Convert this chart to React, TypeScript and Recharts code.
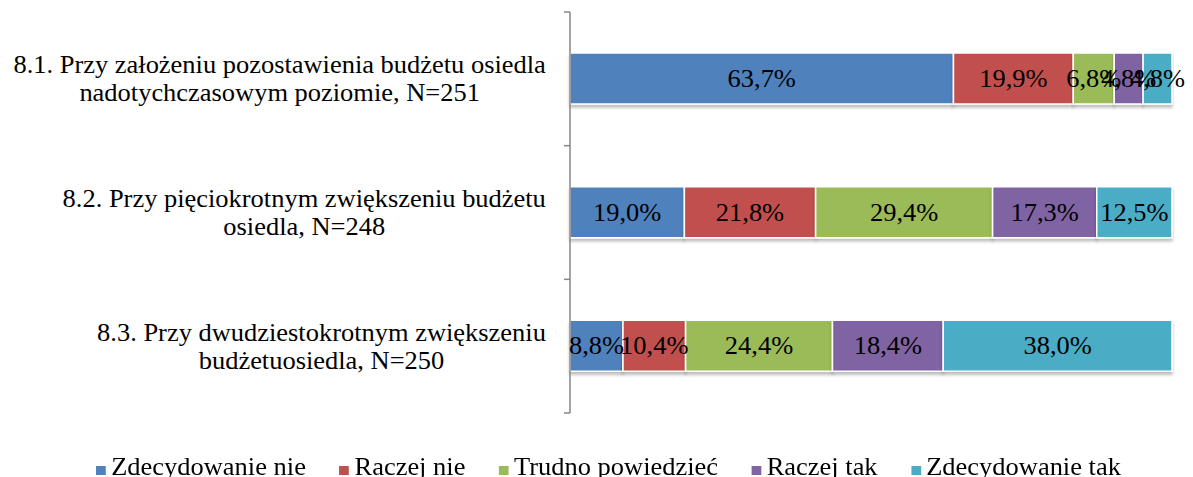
import { BarChart, Bar, XAxis, YAxis, Legend, LabelList } from 'recharts'

const categories = [
  ['8.1. Przy założeniu pozostawienia budżetu osiedla', 'nadotychczasowym poziomie, N=251'],
  ['8.2. Przy pięciokrotnym zwiększeniu budżetu', 'osiedla, N=248'],
  ['8.3. Przy dwudziestokrotnym zwiększeniu', 'budżetuosiedla, N=250'],
]

const seriesNames = ['Zdecydowanie nie', 'Raczej nie', 'Trudno powiedzieć', 'Raczej tak', 'Zdecydowanie tak']
const seriesColors = ['#4F81BD', '#C0504D', '#9BBB59', '#8064A2', '#4BACC6']

const zdecydowanieNie = [63.7, 19.0, 8.8]
const raczejNie = [19.9, 21.8, 10.4]
const trudnoPowiedziec = [6.8, 29.4, 24.4]
const raczejTak = [4.8, 17.3, 18.4]
const zdecydowanieTak = [4.8, 12.5, 38.0]

const seriesValues = [zdecydowanieNie, raczejNie, trudnoPowiedziec, raczejTak, zdecydowanieTak]

const data = categories.map((lines, i) => {
  const row: Record<string, unknown> = { label: lines.join('\n') }
  seriesValues.forEach((vals, s) => {
    row[`s${s}`] = vals[i]
  })
  return row
})

const FONT = "'Liberation Serif', 'Times New Roman', serif"
const FONT_SIZE = 24.5
// the source picture is a bit stretched sideways
const STRETCH = 1.08
const WIDTH = 1185
const HEIGHT = 469
const MARGIN = { top: 4, right: 21, bottom: 40, left: 0 }
const AXIS_WIDTH = 562
const LEGEND_HEIGHT = 24
const TICK_SIZE = 6
const TICK_MARGIN = 18
const AXIS_COLOR = '#868686'

const plotHeight = HEIGHT - MARGIN.top - MARGIN.bottom - LEGEND_HEIGHT
const band = plotHeight / categories.length

let measureCtx: CanvasRenderingContext2D | null = null
function textWidth(s: string) {
  if (!measureCtx) {
    measureCtx = document.createElement('canvas').getContext('2d')
  }
  if (!measureCtx) return s.length * FONT_SIZE * 0.5 * STRETCH
  measureCtx.font = `${FONT_SIZE}px ${FONT}`
  return measureCtx.measureText(s).width * STRETCH
}

const stretchAt = (cx: number) => `translate(${cx},0) scale(${STRETCH},1) translate(${-cx},0)`

function CategoryTick(props: { x: number; y: number; index: number; payload: { value: string } }) {
  const { x, y, index, payload } = props
  const lines = String(payload.value).split('\n')
  const widest = Math.max(...lines.map(textWidth))
  const cx = x - widest / 2
  const axisX = x + TICK_MARGIN + TICK_SIZE
  const lineH = 28
  const startY = y - ((lines.length - 1) * lineH) / 2
  return (
    <g>
      <line x1={axisX - TICK_SIZE} x2={axisX} y1={y - band / 2} y2={y - band / 2} stroke={AXIS_COLOR} strokeWidth={1.5} />
      {index === categories.length - 1 && (
        <line x1={axisX - TICK_SIZE} x2={axisX} y1={y + band / 2} y2={y + band / 2} stroke={AXIS_COLOR} strokeWidth={1.5} />
      )}
      <text textAnchor="middle" fill="#000" transform={stretchAt(cx)} style={{ fontFamily: FONT, fontSize: FONT_SIZE }}>
        {lines.map((l, i) => (
          <tspan key={i} x={cx} y={startY + i * lineH} dy="0.35em">
            {l}
          </tspan>
        ))}
      </text>
    </g>
  )
}

function BarLabel(props: any) {
  const { x, y, width, height, value } = props
  const cx = Number(x) + Number(width) / 2
  const cy = Number(y) + Number(height) / 2
  return (
    <text
      x={cx}
      y={cy}
      dy="0.35em"
      textAnchor="middle"
      fill="#000"
      transform={stretchAt(cx)}
      style={{ fontFamily: FONT, fontSize: FONT_SIZE }}
    >
      {`${Number(value).toFixed(1).replace('.', ',')}%`}
    </text>
  )
}

// legend kept in series order (recharts 3 sorts by name otherwise)
function LegendContent() {
  return (
    <div
      style={{
        display: 'flex',
        justifyContent: 'center',
        alignItems: 'baseline',
        gap: 31,
        height: LEGEND_HEIGHT,
        lineHeight: `${LEGEND_HEIGHT}px`,
        fontFamily: FONT,
        fontSize: FONT_SIZE,
        color: '#000',
        whiteSpace: 'nowrap',
        transform: `scaleX(${STRETCH})`,
        transformOrigin: '50% 50%',
      }}
    >
      {seriesNames.map((name, s) => (
        <span key={name} style={{ display: 'inline-flex', alignItems: 'baseline' }}>
          <span style={{ display: 'inline-block', width: 9, height: 9, background: seriesColors[s], marginRight: 5 }} />
          {name}
        </span>
      ))}
    </div>
  )
}

export default function App() {
  return (
    <div style={{ width: WIDTH, height: HEIGHT, fontFamily: FONT }}>
      <BarChart width={WIDTH} height={HEIGHT} data={data} layout="vertical" margin={MARGIN} barSize={51}>
        <defs>
          <filter id="barShadow" x="-5%" y="-20%" width="110%" height="160%">
            <feDropShadow dx="0" dy="3" stdDeviation="1.5" floodColor="#000" floodOpacity="0.25" />
          </filter>
        </defs>
        <XAxis type="number" domain={[0, 100]} hide />
        <YAxis
          type="category"
          dataKey="label"
          width={AXIS_WIDTH}
          axisLine={{ stroke: AXIS_COLOR, strokeWidth: 1.5 }}
          tickLine={false}
          tickSize={TICK_SIZE}
          tickMargin={TICK_MARGIN}
          tick={(p: any) => <CategoryTick {...p} />}
          interval={0}
        />
        <Legend
          verticalAlign="bottom"
          height={LEGEND_HEIGHT}
          content={<LegendContent />}
          wrapperStyle={{ top: 447, bottom: 'auto', left: 8, width: WIDTH }}
        />
        {seriesNames.map((name, s) => (
          <Bar
            key={name}
            dataKey={`s${s}`}
            name={name}
            stackId="a"
            fill={seriesColors[s]}
            stroke="#fff"
            strokeWidth={1.5}
            filter="url(#barShadow)"
            isAnimationActive={false}
          >
            <LabelList dataKey={`s${s}`} content={<BarLabel />} />
          </Bar>
        ))}
      </BarChart>
    </div>
  )
}
